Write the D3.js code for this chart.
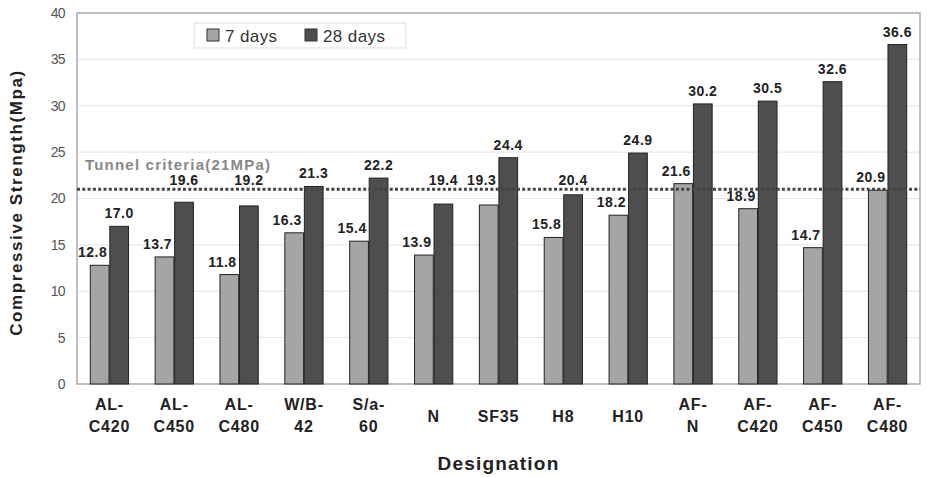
<!DOCTYPE html>
<html>
<head>
<meta charset="utf-8">
<script src="https://cdn.jsdelivr.net/npm/d3@7"></script>
<style>
  body { margin: 0; background: #fff; }
  text { font-family: "Liberation Sans", Arial, sans-serif; }
</style>
</head>
<body>
<svg width="927" height="477"></svg>
<script>
//data
var categories = [["AL-", "C420"], ["AL-", "C450"], ["AL-", "C480"], ["W/B-", "42"], ["S/a-", "60"],
    ["N"], ["SF35"], ["H8"], ["H10"], ["AF-", "N"], ["AF-", "C420"], ["AF-", "C450"], ["AF-", "C480"]];
var days7 = [12.8, 13.7, 11.8, 16.3, 15.4, 13.9, 19.3, 15.8, 18.2, 21.6, 18.9, 14.7, 20.9];
var days28 = [17.0, 19.6, 19.2, 21.3, 22.2, 19.4, 24.4, 20.4, 24.9, 30.2, 30.5, 32.6, 36.6];
var seriesNames = ["7 days", "28 days"];
var yTicks = [0, 5, 10, 15, 20, 25, 30, 35, 40];
var criteria = 21;

var svg = d3.select("svg"),
    margin = { top: 13, right: 7, bottom: 93, left: 77 },
    width = +svg.attr("width") - margin.left - margin.right,
    height = +svg.attr("height") - margin.top - margin.bottom;

var g = svg.append("g").attr("transform", "translate(" + margin.left + "," + margin.top + ")");

//scales
var x0 = d3.scaleBand()
    .domain(d3.range(categories.length))
    .range([0, width])
    .paddingInner(0.41)
    .paddingOuter(0.205);

var x1 = d3.scaleBand()
    .domain([0, 1])
    .range([0, x0.bandwidth()])
    .paddingInner(0.04);

var y = d3.scaleLinear().domain([0, 40]).range([height, 0]);

var colors = ["#a5a5a5", "#4e4e4e"];

//grid
g.selectAll(".grid")
    .data(yTicks.slice(1, -1))
    .enter()
    .append("line")
    .attr("x1", 0)
    .attr("x2", width)
    .attr("y1", function (d) { return y(d); })
    .attr("y2", function (d) { return y(d); })
    .attr("stroke", "#e2e2e2")
    .attr("stroke-width", 1);

//plot border
g.append("rect")
    .attr("width", width)
    .attr("height", height)
    .attr("fill", "none")
    .attr("stroke", "#aaa")
    .attr("stroke-width", 1.5);

//y axis
var yAxis = g.append("g")
    .call(d3.axisLeft(y).tickValues(yTicks).tickSize(0).tickPadding(12));
yAxis.select(".domain").remove();
yAxis.selectAll("text")
    .attr("fill", "#555")
    .style("font-size", "14px")
    .style("letter-spacing", "-0.6px");

//bars
var groups = g.selectAll(".grp")
    .data(categories)
    .enter()
    .append("g")
    .attr("transform", function (d, i) { return "translate(" + x0(i) + ",0)"; });

groups.each(function (d, i) {
    var vals = [days7[i], days28[i]];
    var sel = d3.select(this);
    sel.selectAll("rect")
        .data(vals)
        .enter()
        .append("rect")
        .attr("x", function (v, j) { return x1(j); })
        .attr("y", function (v) { return y(v); })
        .attr("width", x1.bandwidth())
        .attr("height", function (v) { return height - y(v); })
        .attr("fill", function (v, j) { return colors[j]; })
        .attr("stroke", "#222")
        .attr("stroke-width", 1);
});

//criteria line
g.append("line")
    .attr("x1", 0)
    .attr("x2", width)
    .attr("y1", y(criteria))
    .attr("y2", y(criteria))
    .attr("stroke", "#444")
    .attr("stroke-width", 3)
    .attr("stroke-dasharray", "3,2.3");

g.append("text")
    .attr("x", 8)
    .attr("y", y(criteria) - 19)
    .attr("fill", "#888")
    .style("font-size", "15px")
    .style("font-weight", "bold")
    .style("letter-spacing", "1.2px")
    .text("Tunnel criteria(21MPa)");

//value labels, lifted above the criteria line when they would sit on it
function labelY(v) {
    var ly = y(v) - 8,
        cy = y(criteria);
    if (ly > cy - 4 && ly < cy + 10) {
        ly = cy - 4;
    }
    return ly;
}

groups.each(function (d, i) {
    var vals = [days7[i], days28[i]];
    d3.select(this).selectAll(".val")
        .data(vals)
        .enter()
        .append("text")
        .attr("x", function (v, j) { return x1(j) + x1.bandwidth() / 2 + (j === 0 ? -7 : 0); })
        .attr("y", function (v) { return labelY(v); })
        .attr("text-anchor", "middle")
        .attr("fill", "#222")
        .style("font-size", "14px")
        .style("font-weight", "bold")
        .style("letter-spacing", "0.5px")
        .text(function (v) { return v.toFixed(1); });
});

//x labels
groups.each(function (d, i) {
    var t = d3.select(this).append("text")
        .attr("text-anchor", "middle")
        .attr("fill", "#222")
        .style("font-size", "16px")
        .style("font-weight", "bold")
        .style("letter-spacing", "0.8px");
    var top = d.length === 1 ? height + 38 : height + 26;
    d.forEach(function (line, k) {
        t.append("tspan")
            .attr("x", x0.bandwidth() / 2)
            .attr("y", top + k * 22)
            .text(line);
    });
});

//axis titles
svg.append("text")
    .attr("x", margin.left + width / 2)
    .attr("y", 470)
    .attr("text-anchor", "middle")
    .attr("fill", "#222")
    .style("font-size", "19px")
    .style("font-weight", "bold")
    .style("letter-spacing", "1.2px")
    .text("Designation");

svg.append("text")
    .attr("transform", "translate(22," + (margin.top + height / 2 + 4) + ") rotate(-90)")
    .attr("text-anchor", "middle")
    .attr("fill", "#222")
    .style("font-size", "17px")
    .style("font-weight", "bold")
    .style("letter-spacing", "1.6px")
    .text("Compressive Strength(Mpa)");

//legend
var legend = svg.append("g").attr("transform", "translate(194,23)");
legend.append("rect")
    .attr("width", 212)
    .attr("height", 25)
    .attr("fill", "#fff")
    .attr("stroke", "#ddd");

var item = legend.selectAll(".item")
    .data(seriesNames)
    .enter()
    .append("g")
    .attr("transform", function (d, i) { return "translate(" + (13 + i * 98) + ",6)"; });

item.append("rect")
    .attr("width", 12)
    .attr("height", 12)
    .attr("fill", function (d, i) { return colors[i]; })
    .attr("stroke", "#333");

item.append("text")
    .attr("x", 18)
    .attr("y", 12.5)
    .attr("fill", "#333")
    .style("font-size", "17px")
    .style("letter-spacing", "0.4px")
    .text(function (d) { return d; });
</script>
</body>
</html>
